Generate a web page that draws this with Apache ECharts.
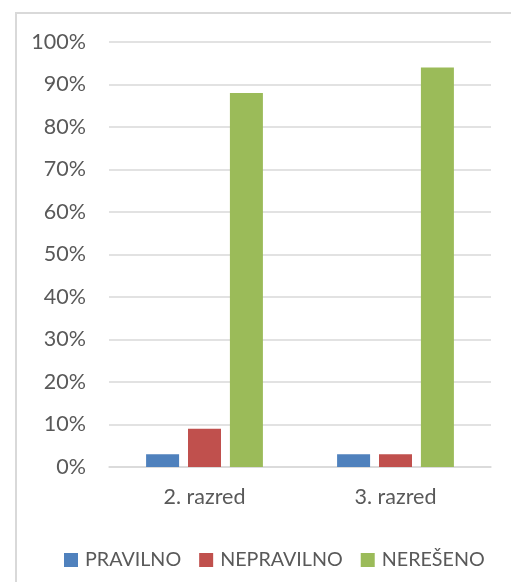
<!DOCTYPE html>
<html>
<head>
<meta charset="utf-8">
<script src="https://cdn.jsdelivr.net/npm/echarts@6/dist/echarts.min.js"></script>
<style>
html,body{margin:0;padding:0;background:#fff;}
#frame{position:absolute;left:15px;top:12px;width:600px;height:600px;border-left:2px solid #d9d9d9;border-top:2px solid #d9d9d9;box-sizing:border-box;}
#chart{position:absolute;left:0;top:0;width:511px;height:582px;}
</style>
</head>
<body>
<div id="frame"></div>
<div id="chart"></div>
<script>
const categories = ['2. razred', '3. razred'];
const pravilno = [3, 3];
const nepravilno = [9, 3];
const nereseno = [88, 94];
const seriesNames = ['PRAVILNO', 'NEPRAVILNO', 'NEREŠENO'];
const colors = ['#4F81BD', '#C0504D', '#9BBB59'];

const font = 'Lato, "Open Sans", sans-serif';
const chart = echarts.init(document.getElementById('chart'));
const mk = (name, data, color) => ({
  name, type: 'bar', data, barWidth: 33, barGap: '27%',
  itemStyle: { color }
});
chart.setOption({
  animation: false,
  textStyle: { fontFamily: font },
  legend: {
    left: 59, top: 545,
    itemWidth: 14, itemHeight: 14, itemGap: 18,
    icon: 'rect',
    textStyle: { color: '#595959', fontSize: 19.7, fontFamily: font, padding: [0,0,0,2] },
    data: seriesNames
  },
  grid: { left: 109, right: 20, top: 42, bottom: 115, containLabel: false },
  xAxis: {
    type: 'category', data: categories,
    axisLine: { lineStyle: { color: '#d9d9d9', width: 1.5 } },
    axisTick: { show: false },
    axisLabel: { color: '#595959', fontSize: 21.5, margin: 19, fontFamily: font }
  },
  yAxis: {
    type: 'value', min: 0, max: 100, interval: 10,
    axisLine: { show: false }, axisTick: { show: false },
    splitLine: { lineStyle: { color: '#d9d9d9', width: 1.5 } },
    axisLabel: { color: '#595959', fontSize: 21.5, margin: 23, fontFamily: font, formatter: '{value}%' }
  },
  series: [
    mk(seriesNames[0], pravilno, colors[0]),
    mk(seriesNames[1], nepravilno, colors[1]),
    mk(seriesNames[2], nereseno, colors[2])
  ]
});
</script>
</body>
</html>
